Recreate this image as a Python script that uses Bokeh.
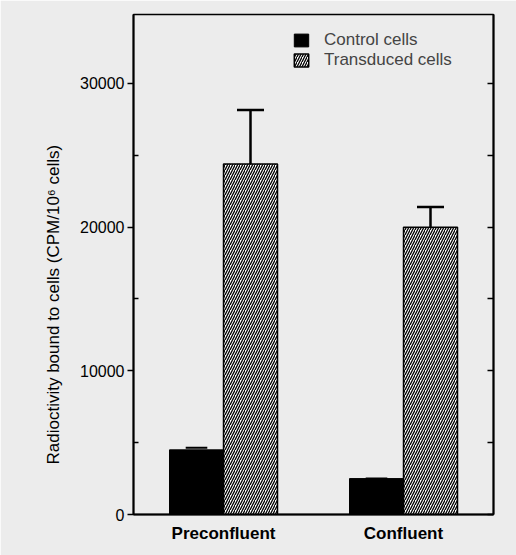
import math
from bokeh.plotting import figure
from bokeh.models import (FactorRange, Range1d, LinearAxis, FixedTicker, Legend,
                          LegendItem, ColumnDataSource, Title)
from bokeh.transform import dodge
from bokeh.embed import file_html
from bokeh.resources import INLINE

categories = ["Preconfluent", "Confluent"]
control = [4500, 2500]
transduced = [24400, 20000]
control_err = [150, 0]
transduced_err = [3750, 1400]
y_ticks = [0, 10000, 20000, 30000]
y_minor_ticks = [5000, 15000, 25000]
y_label = "Radioctivity bound to cells  (CPM/10\u2076 cells)"

src = ColumnDataSource(dict(
    cat=categories,
    control=control,
    transduced=transduced,
    ctrl_up=[c + e for c, e in zip(control, control_err)],
    trans_up=[t + e for t, e in zip(transduced, transduced_err)],
))

BG = "#ececec"
FONT = "Liberation Sans"

p = figure(x_range=FactorRange(*categories), y_range=Range1d(0, 34800),
           width=516, height=555, output_backend="svg", toolbar_location=None,
           min_border_left=133, min_border_right=23, min_border_top=14,
           min_border_bottom=41)
p.background_fill_color = BG
p.border_fill_color = BG
p.outline_line_color = "black"
p.outline_line_width = 1.5
p.xgrid.visible = False
p.ygrid.visible = False

r1 = p.vbar(x=dodge("cat", -0.15, range=p.x_range), top="control", width=0.3,
            source=src, fill_color="black", line_color="black")
r2 = p.vbar(x=dodge("cat", 0.15, range=p.x_range), top="transduced", width=0.3,
            source=src, fill_color="white", line_color="black", line_width=1.5,
            hatch_pattern="/", hatch_color="black", hatch_scale=5, hatch_weight=1.3)

# error bars
p.segment(x0=dodge("cat", 0.15, range=p.x_range), x1=dodge("cat", 0.15, range=p.x_range),
          y0="transduced", y1="trans_up", source=src, line_color="black", line_width=2.5)
p.segment(x0=dodge("cat", 0.075, range=p.x_range), x1=dodge("cat", 0.225, range=p.x_range),
          y0="trans_up", y1="trans_up", source=src, line_color="black", line_width=2.5)
p.segment(x0=dodge("cat", -0.21, range=p.x_range), x1=dodge("cat", -0.09, range=p.x_range),
          y0="ctrl_up", y1="ctrl_up", source=src, line_color="black", line_width=2)

# y axis (left)
yax = p.yaxis[0]
yax.ticker = FixedTicker(ticks=y_ticks, minor_ticks=y_minor_ticks)
yax.axis_line_width = 2
yax.major_tick_out = 6
yax.major_tick_in = 0
yax.major_tick_line_width = 1.5
yax.minor_tick_in = 5
yax.minor_tick_out = 0
yax.minor_tick_line_width = 1.5
yax.major_label_text_font = FONT
yax.major_label_text_font_size = "16px"
yax.major_label_text_color = "black"
yax.major_label_standoff = 3

# right axis
rax = LinearAxis(ticker=FixedTicker(ticks=y_ticks, minor_ticks=y_minor_ticks))
rax.axis_line_width = 2
rax.major_tick_in = 6
rax.major_tick_out = 0
rax.major_tick_line_width = 1.5
rax.minor_tick_in = 6
rax.minor_tick_out = 0
rax.minor_tick_line_width = 1.5
rax.major_label_text_font_size = "0px"
rax.major_label_text_color = None
p.add_layout(rax, "right")

# x axis
xax = p.xaxis[0]
xax.axis_line_width = 2
xax.major_tick_line_color = None
xax.minor_tick_line_color = None
xax.major_label_text_font = FONT
xax.major_label_text_font_size = "17px"
xax.major_label_text_font_style = "bold"
xax.major_label_text_color = "black"
xax.major_label_standoff = 3

# y label as a left-side title (allows offset along the axis)
p.add_layout(Title(text=y_label, align="left", offset=50, standoff=30,
                   text_font=FONT, text_font_size="17px", text_font_style="normal",
                   text_color="black"), "left")

legend = Legend(items=[LegendItem(label="Control cells", renderers=[r1]),
                       LegendItem(label="Transduced cells", renderers=[r2])],
                location=(159, 444), padding=0, spacing=0, margin=0,
                glyph_width=18, glyph_height=16, label_height=19,
                label_standoff=14, label_text_font=FONT, label_text_font_size="17px",
                border_line_color=None, background_fill_alpha=0)
p.add_layout(legend)

open("out.html", "w").write(file_html(p, INLINE))
